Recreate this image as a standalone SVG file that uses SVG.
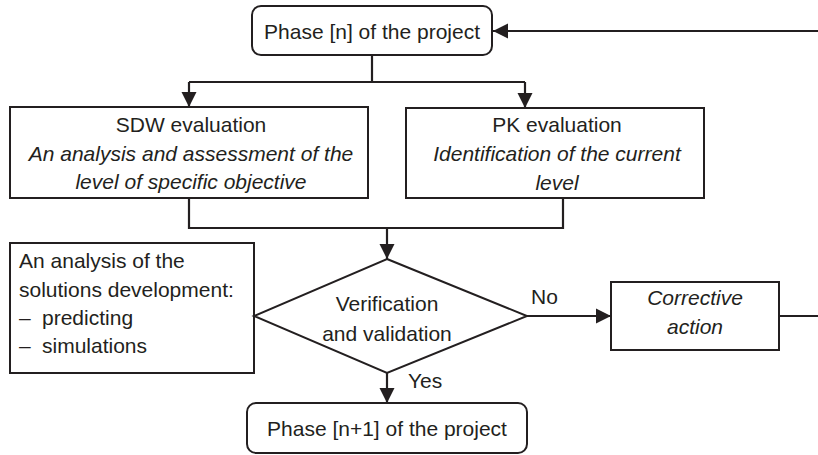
<svg xmlns="http://www.w3.org/2000/svg" width="818" height="455" viewBox="0 0 818 455">
<style>
.box{fill:#fff;stroke:#231f20;stroke-width:2}
.ln{fill:none;stroke:#231f20;stroke-width:2.2}
text{font-family:"Liberation Sans",Arial,sans-serif;font-size:21px;fill:#231f20}
.c{text-anchor:middle}
.i{font-style:italic}
</style>
<defs>
<marker id="ah" markerUnits="userSpaceOnUse" markerWidth="16" markerHeight="16" viewBox="0 0 16 16" refX="15" refY="8" orient="auto">
<path d="M0,0.5 L15,8 L0,15.5 Z" fill="#231f20"/>
</marker>
</defs>
<g id="connectors">
<path class="ln" d="M818,31 L493,31" marker-end="url(#ah)"/>
<path class="ln" d="M372,55 L372,82"/>
<path class="ln" d="M189,82 L525,82"/>
<path class="ln" d="M189,82 L189,107" marker-end="url(#ah)"/>
<path class="ln" d="M525,82 L525,108" marker-end="url(#ah)"/>
<path class="ln" d="M189,198 L189,228 L563,228 L563,198"/>
<path class="ln" d="M387,228 L387,259" marker-end="url(#ah)"/>
<path class="ln" d="M527,316 L611,316" marker-end="url(#ah)"/>
<path class="ln" d="M779,316 L818,316"/>
<path class="ln" d="M387,373 L387,403" marker-end="url(#ah)"/>
<text x="531" y="304">No</text>
<text x="408" y="388">Yes</text>
</g>
<g id="phase-n">
<rect class="box" x="252" y="6" width="240" height="49" rx="9"/>
<text class="c" x="372" y="39">Phase [n] of the project</text>
</g>
<g id="sdw">
<rect class="box" x="10" y="107" width="358" height="91"/>
<text class="c" x="191" y="132">SDW evaluation</text>
<text class="c i" x="191" y="161">An analysis and assessment of the</text>
<text class="c i" x="191" y="189">level of specific objective</text>
</g>
<g id="pk">
<rect class="box" x="406" y="108" width="298" height="90"/>
<text class="c" x="557" y="132">PK evaluation</text>
<text class="c i" x="557" y="161">Identification of the current</text>
<text class="c i" x="557" y="190">level</text>
</g>
<g id="analysis">
<rect class="box" x="10" y="243" width="244" height="130"/>
<text x="19" y="268">An analysis of the</text>
<text x="19" y="297">solutions development:</text>
<text x="19" y="325">–<tspan x="42">predicting</tspan></text>
<text x="19" y="353">–<tspan x="42">simulations</tspan></text>
</g>
<g id="verification">
<path class="box" d="M387,259 L527,316 L387,373 L254,316 Z"/>
<text class="c" x="387" y="311">Verification</text>
<text class="c" x="387" y="341">and validation</text>
</g>
<g id="corrective">
<rect class="box" x="611" y="282" width="168" height="68"/>
<text class="c i" x="695" y="305">Corrective</text>
<text class="c i" x="695" y="334">action</text>
</g>
<g id="phase-n1">
<rect class="box" x="247" y="403" width="280" height="50" rx="9"/>
<text class="c" x="387" y="436">Phase [n+1] of the project</text>
</g>
</svg>
